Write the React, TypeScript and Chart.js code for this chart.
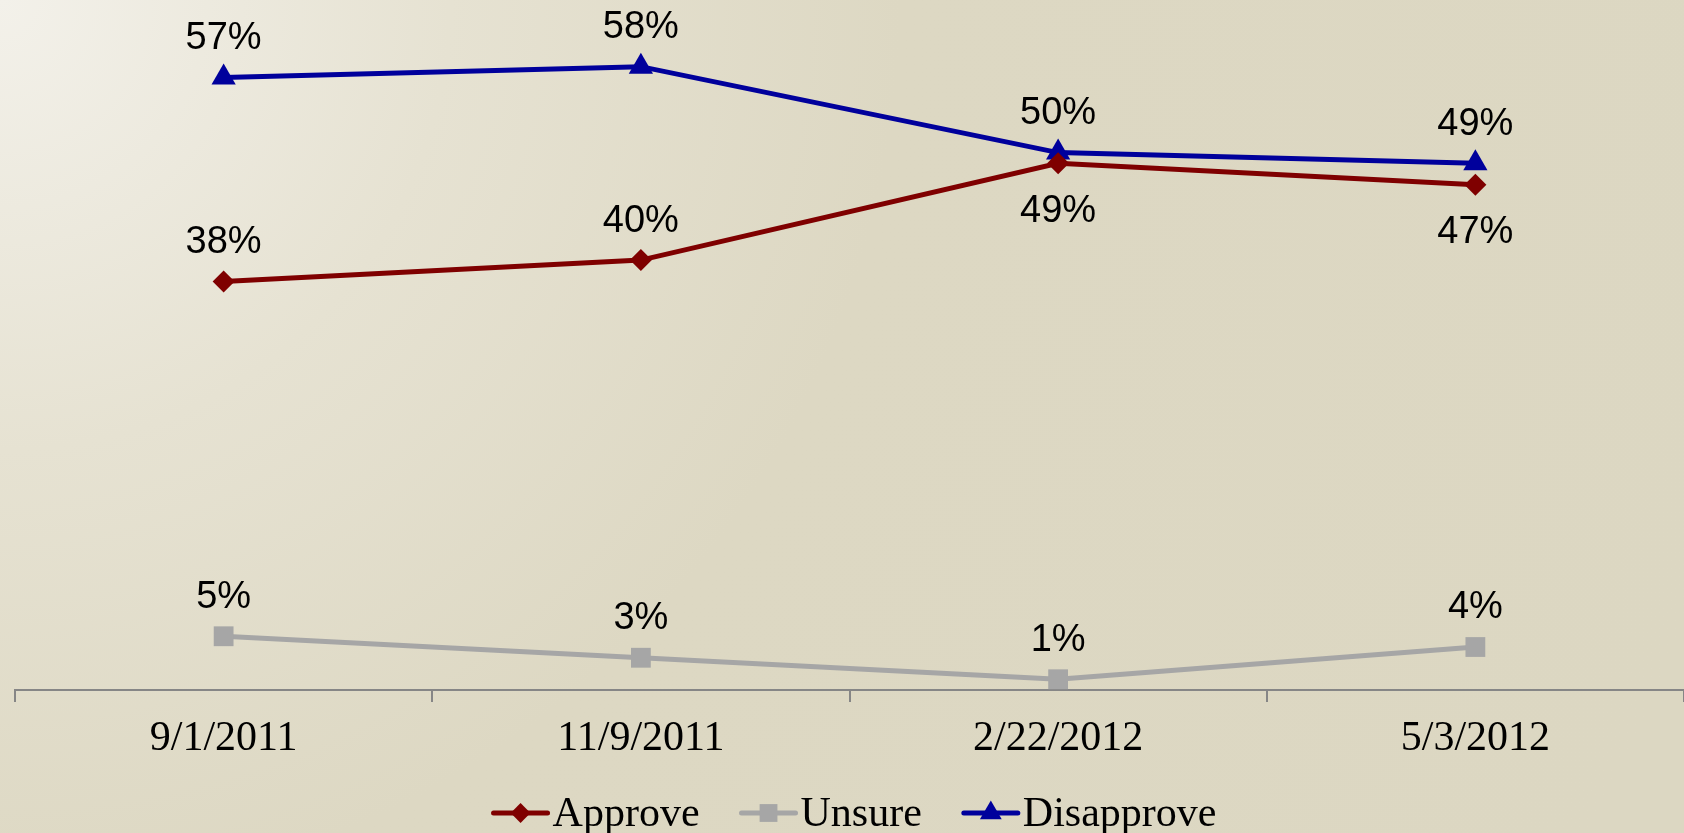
import React, { useEffect, useRef } from "react";
import { Chart, registerables } from "chart.js";

Chart.register(...registerables);

const categories = ["9/1/2011", "11/9/2011", "2/22/2012", "5/3/2012"];
const approve = [38, 40, 49, 47];
const unsure = [5, 3, 1, 4];
const disapprove = [57, 58, 50, 49];
const seriesNames = ["Approve", "Unsure", "Disapprove"];

const COLORS = ["#7F0000", "#A6A6A6", "#00009C"];
const STYLES = ["rectRot", "rect", "triangle"];
const RADII = [11, 14, 14];

function drawMarker(ctx: CanvasRenderingContext2D, style: string, x: number, y: number, r: number, color: string) {
  ctx.save();
  ctx.fillStyle = color;
  ctx.beginPath();
  if (style === "rectRot") {
    ctx.moveTo(x, y - r);
    ctx.lineTo(x + r, y);
    ctx.lineTo(x, y + r);
    ctx.lineTo(x - r, y);
  } else if (style === "rect") {
    const s = r * Math.SQRT1_2;
    ctx.rect(x - s, y - s, 2 * s, 2 * s);
  } else {
    const h = r * 1.5;
    const w = r * Math.sqrt(3);
    ctx.moveTo(x, y - r);
    ctx.lineTo(x + w / 2, y - r + h);
    ctx.lineTo(x - w / 2, y - r + h);
  }
  ctx.closePath();
  ctx.fill();
  ctx.restore();
}

const labelPlugin = {
  id: "pctLabels",
  afterDatasetsDraw(chart: any) {
    const ctx = chart.ctx as CanvasRenderingContext2D;
    ctx.save();
    ctx.font = '38px "Liberation Sans", Arial, sans-serif';
    ctx.fillStyle = "#000";
    ctx.textAlign = "center";
    ctx.textBaseline = "middle";
    const dis = chart.data.datasets[2].data as number[];
    chart.data.datasets.forEach((ds: any, di: number) => {
      const meta = chart.getDatasetMeta(di);
      meta.data.forEach((pt: any, i: number) => {
        const v = ds.data[i] as number;
        let below = false;
        if (di === 0 && dis[i] - v < 5) below = true;
        const y = below ? pt.y + 48 : pt.y - 39;
        ctx.fillText(v + "%", pt.x, y);
      });
    });
    ctx.restore();
  },
  afterDraw(chart: any) {
    const ctx = chart.ctx as CanvasRenderingContext2D;
    ctx.save();
    ctx.font = '42px "Liberation Serif", "Times New Roman", serif';
    ctx.textBaseline = "middle";
    const lineLen = 58;
    const gap = 40;
    const textOff = 3;
    const widths = seriesNames.map((n) => ctx.measureText(n).width);
    const total =
      widths.reduce((a, b) => a + b, 0) +
      seriesNames.length * (lineLen + textOff) +
      (seriesNames.length - 1) * gap;
    let x = chart.width / 2 + 12 - total / 2;
    const y = 813;
    seriesNames.forEach((n, i) => {
      ctx.strokeStyle = COLORS[i];
      ctx.lineWidth = 5;
      ctx.lineCap = "round";
      ctx.beginPath();
      ctx.moveTo(x + 2, y);
      ctx.lineTo(x + lineLen - 2, y);
      ctx.stroke();
      drawMarker(ctx, STYLES[i], x + lineLen / 2, y, RADII[i] * 0.9, COLORS[i]);
      x += lineLen + textOff;
      ctx.fillStyle = "#000";
      ctx.fillText(n, x, y + 2);
      x += widths[i] + gap;
    });
    ctx.restore();
  },
};

export default function App() {
  const ref = useRef<HTMLCanvasElement | null>(null);
  useEffect(() => {
    if (!ref.current) return;
    const chart = new Chart(ref.current, {
      type: "line",
      data: {
        labels: categories,
        datasets: [
          { label: seriesNames[0], data: approve },
          { label: seriesNames[1], data: unsure },
          { label: seriesNames[2], data: disapprove },
        ].map((d, i) => ({
          ...d,
          borderColor: COLORS[i],
          backgroundColor: COLORS[i],
          pointBackgroundColor: COLORS[i],
          pointBorderColor: COLORS[i],
          pointBorderWidth: 0,
          pointStyle: STYLES[i] as any,
          pointRadius: RADII[i],
          borderWidth: 5,
          tension: 0,
          fill: false,
        })),
      },
      options: {
        animation: false,
        responsive: false,
        maintainAspectRatio: false,
        layout: { autoPadding: false, padding: { left: 15, right: 0, top: 0, bottom: 0 } },
        plugins: { legend: { display: false }, tooltip: { enabled: false } },
        scales: {
          x: {
            offset: true,
            grid: {
              offset: true,
              drawOnChartArea: false,
              drawTicks: true,
              tickLength: 12,
              color: "#868686",
              lineWidth: 2,
            },
            border: { display: true, color: "#868686", width: 2 },
            ticks: {
              color: "#000",
              font: { family: '"Liberation Serif", "Times New Roman", serif', size: 42 },
              padding: 12,
              maxRotation: 0,
            },
            afterFit: (s: any) => {
              s.height = 143;
              s.paddingLeft = 0;
              s.paddingRight = 0;
            },
          },
          y: {
            display: false,
            min: 0,
            max: 64.2,
          },
        },
      },
      plugins: [labelPlugin],
    });
    return () => chart.destroy();
  }, []);
  return (
    <div
      style={{
        position: "fixed",
        left: 0,
        top: 0,
        width: 1684,
        height: 833,
        background:
          "radial-gradient(circle at 0 0, #F3F1EA 0px, #E6E2D2 450px, #DDD8C3 900px, #DCD7C2 1800px)",
      }}
    >
      <canvas ref={ref} width={1684} height={833} style={{ display: "block" }} />
    </div>
  );
}
